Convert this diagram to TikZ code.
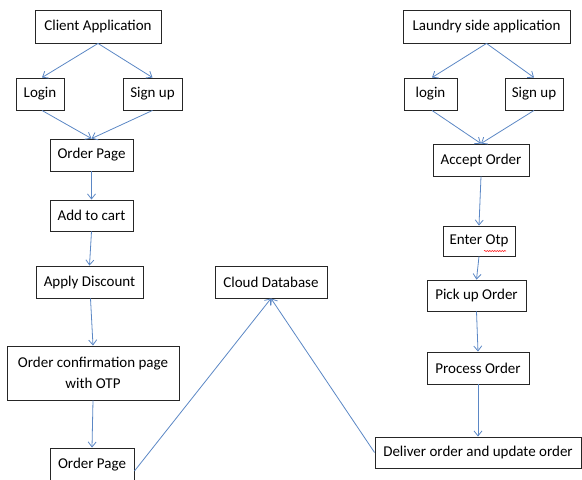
\documentclass[tikz,border=0pt]{standalone}
\usepackage{fontspec}
\setmainfont{Carlito}
\usetikzlibrary{arrows.meta,decorations.pathmorphing}
\definecolor{flowblue}{HTML}{5B87C5}
\tikzset{
  box/.style={draw=black!85, line width=0.9pt, fill=white, inner sep=0pt,
    align=center, font=\fontsize{15}{18}\selectfont},
  arr/.style={draw=flowblue, line width=0.8pt, -{Straight Barb[length=5pt,width=8pt]}},
}
\begin{document}
\begin{tikzpicture}[x=1pt,y=-1pt]
\useasboundingbox (0,0) rectangle (582,480);
\clip (0,0) rectangle (582,480);

% customer side
\node[box, minimum width=126, minimum height=33] (client) at (98,26.5) {Client Application};
\node[box, minimum width=48,  minimum height=32] (login)  at (40,94) {Login};
\node[box, minimum width=59,  minimum height=32] (signup) at (152.5,94) {Sign up};
\node[box, minimum width=83,  minimum height=32] (order)  at (91.5,155) {Order Page};
\node[box, minimum width=83,  minimum height=31] (cart)   at (91.5,215.5) {Add to cart};
\node[box, minimum width=107, minimum height=32] (disc)   at (89.5,282) {Apply Discount};
\node[box, minimum width=172, minimum height=54, font=\fontsize{15}{21}\selectfont] (conf) at (93,373) {Order confirmation page\\with OTP};
\node[box, minimum width=84,  minimum height=40] (orderb) at (92,468) {};
\node[font=\fontsize{15}{18}\selectfont] at (92,465) {Order Page};

% shared store
\node[box, minimum width=112, minimum height=32] (cloud) at (271,282) {Cloud Database};

% laundry side
\node[box, minimum width=167, minimum height=33] (laundry) at (486.5,26.5) {Laundry side application};
\node[box, minimum width=53,  minimum height=32] (llogin)  at (430.5,94) {login};
\node[box, minimum width=58,  minimum height=32] (lsignup) at (534,94) {Sign up};
\node[box, minimum width=96,  minimum height=32] (accept)  at (481,160) {Accept Order};
\node[box, minimum width=72,  minimum height=30] (otp)     at (479,241) {Enter Otp};
\node[box, minimum width=99,  minimum height=31] (pickup)  at (476.5,295.5) {Pick up Order};
\node[box, minimum width=102, minimum height=32] (process) at (478,368) {Process Order};
\node[box, minimum width=206, minimum height=31] (deliver) at (478,452.5) {Deliver order and update order};

% spell-check underline under "Otp"
\draw[red, line width=0.5pt, decorate, decoration={snake, amplitude=0.6pt, segment length=2.5pt}]
  ([shift={(5,10)}]otp.center) -- ([shift={(27,10)}]otp.center);

% customer flow
\draw[arr] (client.south) -- ([xshift=2pt]login.north);
\draw[arr] (client.south) -- (signup.north);
\draw[arr] ([xshift=2pt]login.south) -- (order.north);
\draw[arr] (signup.south) -- (order.north);
\draw[arr] (order.south) -- (cart.north);
\draw[arr] (cart.south) -- (disc.north);
\draw[arr] ([xshift=1pt]disc.south) -- (conf.north);
\draw[arr] (conf.south) -- (orderb.north);
\draw[arr] ([yshift=-3pt]orderb.east) -- (cloud.south);

% laundry flow
\draw[arr] (laundry.south) -- ([xshift=1.5pt]llogin.north);
\draw[arr] (laundry.south) -- (lsignup.north);
\draw[arr] ([xshift=1.5pt]llogin.south) -- (accept.north);
\draw[arr] (lsignup.south) -- (accept.north);
\draw[arr] (accept.south) -- (otp.north);
\draw[arr] (otp.south) -- (pickup.north);
\draw[arr] (pickup.south) -- (process.north);
\draw[arr] (process.south) -- (deliver.north);
\draw[arr] (deliver.west) -- (cloud.south);
\end{tikzpicture}
\end{document}
